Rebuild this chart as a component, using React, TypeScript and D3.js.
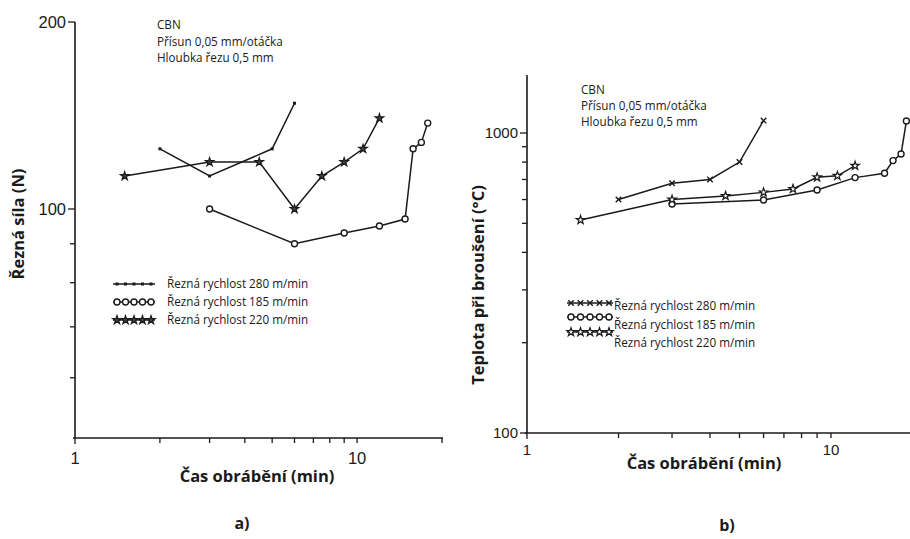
import React, { useEffect, useRef } from 'react';
import * as d3 from 'd3';

// ---- data ----
const timeA280 = [2, 3, 5, 6];
const forceA280 = [125, 113, 125, 148];
const timeA185 = [3, 6, 9, 12, 14.8, 15.8, 16.9, 17.8];
const forceA185 = [100, 90, 93, 95, 97, 125, 128, 137.5];
const timeA220 = [1.5, 3, 4.5, 6, 7.5, 9, 10.5, 12];
const forceA220 = [113, 119, 119, 100, 113, 119, 125, 140];

const timeB280 = [2, 3, 4, 5, 6];
const tempB280 = [600, 680, 700, 800, 1100];
const timeB185 = [3, 6, 9, 12, 15, 16, 17, 17.7];
const tempB185 = [580, 598, 646, 710, 734, 809, 851, 1096];
const timeB220 = [1.5, 3, 4.5, 6, 7.5, 9, 10.5, 12];
const tempB220 = [513, 600, 617, 634, 651, 712, 720, 778];

const legendLabels = ['Řezná rychlost 280 m/min', 'Řezná rychlost 185 m/min', 'Řezná rychlost 220 m/min'];
const noteLines = ['CBN', 'Přísun 0,05 mm/otáčka', 'Hloubka řezu 0,5 mm'];
const xMinorTicks = [2, 3, 4, 5, 6, 7, 8, 9, 10, 20];
const xTickLabels = [1, 10];
const aYMinorTicks = [60, 70, 80, 90];
const aYTickLabels = [100, 200];
const bYMinorTicks = [200, 300, 400, 500, 600, 700, 800, 900];
const bYTickLabels = [100, 1000];
const xTitle = 'Čas obrábění (min)';
const aYTitle = 'Řezná síla (N)';
const bYTitle = 'Teplota při broušení (°C)';
const panelLabels = ['a)', 'b)'];

const INK = '#1a1a1a';
const TEXT_FONT = "'Open Sans', sans-serif";
const NUM_FONT = "'Liberation Sans', Arial, sans-serif";

type Marker = 'dot' | 'circle' | 'star' | 'cross';

function drawMarker(g: any, kind: Marker, x: number, y: number, darkStars: boolean) {
  if (kind === 'dot') {
    g.append('rect').attr('x', x - 1.5).attr('y', y - 1.5).attr('width', 3).attr('height', 3).attr('fill', INK);
  } else if (kind === 'circle') {
    g.append('circle').attr('cx', x).attr('cy', y).attr('r', 3).attr('fill', '#fff').attr('stroke', INK).attr('stroke-width', 1.4);
  } else if (kind === 'star') {
    g.append('path').attr('d', d3.symbol(d3.symbolStar, 22)()).attr('transform', `translate(${x},${y})`)
      .attr('fill', darkStars ? '#444' : '#fff').attr('stroke', INK).attr('stroke-width', 1.2);
  } else {
    g.append('path').attr('d', d3.symbol(d3.symbolTimes, 22)()).attr('transform', `translate(${x},${y})`)
      .attr('fill', 'none').attr('stroke', INK).attr('stroke-width', 1.4);
  }
}

export default function App() {
  const ref = useRef<SVGSVGElement | null>(null);

  useEffect(() => {
    const svg = d3.select(ref.current);
    svg.selectAll('*').remove();

    const panel = (cfg: any) => {
      const g = svg.append('g');
      const { x, y, yMinor, yLabels, xAxisY, yAxisX, yTop, xEnd, series, labelSize, tickLen } = cfg;
      // axis lines
      g.append('line').attr('x1', yAxisX).attr('x2', yAxisX).attr('y1', yTop).attr('y2', xAxisY).attr('stroke', INK).attr('stroke-width', 1.6);
      g.append('line').attr('x1', yAxisX - 2).attr('x2', xEnd).attr('y1', xAxisY).attr('y2', xAxisY).attr('stroke', INK).attr('stroke-width', 1.6);
      // x ticks
      g.selectAll('.xt').data(xMinorTicks).enter().append('line')
        .attr('x1', (d: number) => x(d)).attr('x2', (d: number) => x(d))
        .attr('y1', xAxisY).attr('y2', xAxisY + 5).attr('stroke', INK).attr('stroke-width', 1.3);
      g.append('line').attr('x1', x(1)).attr('x2', x(1)).attr('y1', xAxisY).attr('y2', xAxisY + 6).attr('stroke', INK).attr('stroke-width', 1.3);
      // y ticks
      g.selectAll('.yt').data(yMinor).enter().append('line')
        .attr('x1', yAxisX - tickLen).attr('x2', yAxisX)
        .attr('y1', (d: number) => y(d)).attr('y2', (d: number) => y(d)).attr('stroke', INK).attr('stroke-width', 1.3);
      g.selectAll('.ytl').data(yLabels).enter().append('line')
        .attr('x1', yAxisX - 7).attr('x2', yAxisX)
        .attr('y1', (d: number) => y(d)).attr('y2', (d: number) => y(d)).attr('stroke', INK).attr('stroke-width', 1.3);
      g.selectAll('.ylab').data(yLabels).enter().append('text')
        .attr('x', yAxisX - 9).attr('y', (d: number) => y(d)).attr('dy', '0.36em')
        .attr('text-anchor', 'end').attr('font-family', NUM_FONT).attr('font-size', labelSize).attr('fill', INK)
        .text((d: number) => String(d));
      g.selectAll('.xlab').data(xTickLabels).enter().append('text')
        .attr('x', (d: number) => x(d)).attr('y', xAxisY + cfg.xLabelOffset).attr('dy', '0.36em')
        .attr('text-anchor', 'middle').attr('font-family', NUM_FONT).attr('font-size', labelSize).attr('fill', INK)
        .text((d: number) => String(d));
      // series
      series.forEach((s: any) => {
        const pts = s.t.map((t: number, i: number) => [x(t), y(s.v[i])]);
        g.append('path').attr('d', d3.line()(pts)).attr('fill', 'none').attr('stroke', INK).attr('stroke-width', 1.5);
        pts.forEach((p: number[]) => drawMarker(g, s.marker, p[0], p[1], cfg.darkStars));
      });
      // notes
      noteLines.forEach((t, i) => {
        g.append('text').attr('x', cfg.noteX).attr('y', cfg.noteY[i]).attr('dy', '0.36em')
          .attr('font-family', TEXT_FONT).attr('font-size', 11.7).attr('fill', INK).text(t);
      });
      // legend
      series.forEach((s: any, i: number) => {
        const ly = cfg.legLineY[i];
        const [lx0, lx1] = cfg.legLineX;
        g.append('line').attr('x1', lx0).attr('x2', lx1).attr('y1', ly).attr('y2', ly).attr('stroke', INK).attr('stroke-width', 1.5);
        d3.range(5).forEach((k) => drawMarker(g, s.marker, lx0 + 4 + (k * (lx1 - lx0 - 8)) / 4, ly, cfg.darkStars));
        g.append('text').attr('x', cfg.legTextX).attr('y', cfg.legTextY[i]).attr('dy', '0.36em')
          .attr('font-family', TEXT_FONT).attr('font-size', 11.7).attr('fill', INK).text(legendLabels[i]);
      });
      // titles
      g.append('text').attr('x', cfg.xTitlePos[0]).attr('y', cfg.xTitlePos[1]).attr('dy', '0.36em')
        .attr('text-anchor', 'middle').attr('font-family', TEXT_FONT).attr('font-weight', 700).attr('font-size', 16.5).attr('fill', INK)
        .text(xTitle);
      g.append('text').attr('transform', `translate(${cfg.yTitlePos[0]},${cfg.yTitlePos[1]}) rotate(-90)`).attr('dy', '0.36em')
        .attr('text-anchor', 'middle').attr('font-family', TEXT_FONT).attr('font-weight', 700).attr('font-size', 16.5).attr('fill', INK)
        .text(cfg.yTitle);
      g.append('text').attr('x', cfg.panelPos[0]).attr('y', cfg.panelPos[1]).attr('dy', '0.36em')
        .attr('text-anchor', 'middle').attr('font-family', TEXT_FONT).attr('font-weight', 700).attr('font-size', 16).attr('fill', INK)
        .text(cfg.panelLabel);
    };

    // panel a
    const xa = d3.scaleLog().domain([1, 20]).range([75, 442]);
    const ya = d3.scaleLog().domain([50, 100, 200]).range([438, 209, 22]);
    panel({
      x: xa, y: ya, yMinor: aYMinorTicks, yLabels: aYTickLabels, xAxisY: 438, yAxisX: 75, yTop: 22, xEnd: 443,
      labelSize: 16.5, tickLen: 5, xLabelOffset: 20, darkStars: true,
      series: [
        { t: timeA280, v: forceA280, marker: 'dot' },
        { t: timeA185, v: forceA185, marker: 'circle' },
        { t: timeA220, v: forceA220, marker: 'star' },
      ],
      noteX: 157, noteY: [25, 42, 58],
      legLineX: [113, 155], legLineY: [284, 302, 320], legTextX: 167, legTextY: [284, 302, 320],
      xTitlePos: [257, 476], yTitlePos: [18, 224], yTitle: aYTitle, panelPos: [242, 523], panelLabel: panelLabels[0],
    });

    // panel b
    const xb = d3.scaleLog().domain([1, 20]).range([527, 527 + 304 * Math.log10(20)]);
    const yb = d3.scaleLog().domain([100, 1000]).range([433, 133]);
    panel({
      x: xb, y: yb, yMinor: bYMinorTicks, yLabels: bYTickLabels, xAxisY: 433, yAxisX: 527, yTop: 75, xEnd: 910,
      labelSize: 15, tickLen: 5, xLabelOffset: 17, darkStars: false,
      series: [
        { t: timeB280, v: tempB280, marker: 'cross' },
        { t: timeB185, v: tempB185, marker: 'circle' },
        { t: timeB220, v: tempB220, marker: 'star' },
      ],
      noteX: 581, noteY: [90, 106, 122],
      legLineX: [567, 613], legLineY: [303, 317, 332], legTextX: 614, legTextY: [306, 325, 343],
      xTitlePos: [704, 463], yTitlePos: [478, 285], yTitle: bYTitle, panelPos: [727, 525], panelLabel: panelLabels[1],
    });
  }, []);

  return (
    <svg ref={ref} width={910} height={539} style={{ position: 'absolute', left: 0, top: 0, background: '#fff' }} />
  );
}
